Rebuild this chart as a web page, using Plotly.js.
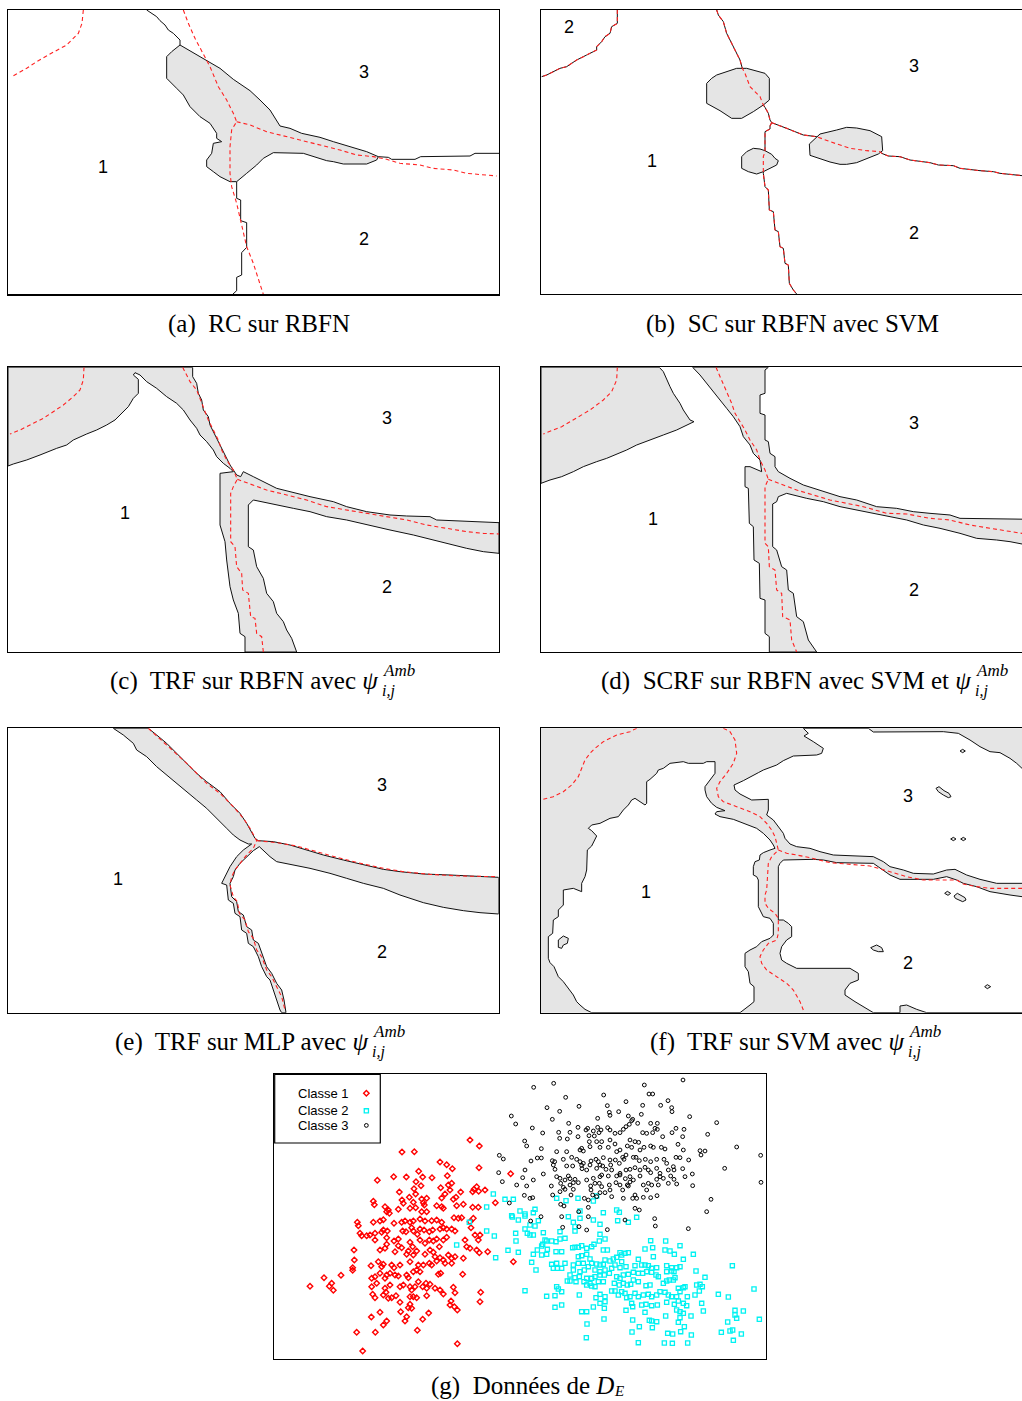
<!DOCTYPE html>
<html>
<head>
<meta charset="utf-8">
<script src="https://cdn.plot.ly/plotly-3.0.1.min.js"></script>
<style>
  html, body { margin: 0; padding: 0; overflow: hidden; background: #fff; }
  #fig { width: 1040px; height: 1401px; }
</style>
</head>
<body>
<div id="fig"></div>
<script>
// ---------------------------------------------------------------------------
// Decision regions of several classifiers with rejection (feature-space units)
// ---------------------------------------------------------------------------

// (a) RC sur RBFN
const aAmbig = [[540,135],[580,158],[620,180],[660,205],[700,238],[750,272],[780,300],[810,330],[840,378],[870,385],[905,400],[960,412],[1000,425],[1050,440],[1100,455],[1135,470],[1130,480],[1100,492],[1030,492],[1000,485],[980,482],[910,460],[820,458],[790,475],[770,495],[740,520],[710,545],[690,545],[660,530],[640,515],[620,500],[620,480],[635,460],[640,430],[665,425],[650,415],[650,400],[630,370],[600,350],[570,320],[550,285],[530,265],[515,250],[500,235],[500,170],[515,155],[540,135]];
const aEdgeTop = [[440,30],[470,50],[480,62],[495,75],[505,90],[520,100],[540,120],[540,135]];
const aEdgeBottom = [[710,545],[710,595],[722,600],[722,662],[740,668],[740,742],[725,758],[725,825],[710,832],[710,872],[698,883]];
const aEdgeRight = [[1135,470],[1165,472],[1175,478],[1245,478],[1262,470],[1410,468],[1425,460],[1497,460]];
const aBayesArc = [[250,30],[246,70],[235,100],[200,135],[150,162],[110,185],[80,205],[35,230]];
const aBayesMain = [[550,30],[565,70],[585,115],[610,160],[630,200],[655,260],[680,300],[700,340],[710,365],[695,390],[690,440],[690,520],[695,560],[710,610],[725,680],[740,740],[760,790],[775,840],[790,883]];
const aBayesRight = [[710,365],[750,375],[800,395],[840,405],[900,420],[960,435],[1020,450],[1070,465],[1120,470],[1160,478],[1200,490],[1260,495],[1300,505],[1360,510],[1400,520],[1490,528]];
const aClassLabels = [['1',308,500],['3',1093,215],['2',1093,717]];

// (b) SC sur RBFN avec SVM
const bEdgeArc = [[262,30],[262,70],[245,80],[240,100],[225,110],[215,125],[200,140],[200,150],[170,165],[140,180],[110,200],[90,205],[50,225],[35,230]];
const bEdgeMain = [[560,30],[565,45],[580,65],[590,100],[600,120],[610,140],[620,160],[630,180],[637,205],[645,220],[660,260],[690,290],[700,315],[705,322],[715,340],[720,360],[725,368]];
const bEdgeRight = [[725,368],[745,375],[770,385],[795,395],[820,405],[860,410],[900,425],[960,445],[1010,452],[1050,455],[1055,460],[1075,468],[1110,470],[1140,480],[1170,484],[1200,488],[1225,495],[1270,497],[1290,505],[1330,510],[1350,512],[1390,515],[1410,520],[1506,530]];
const bEdgeDown = [[725,368],[720,378],[720,387],[705,395],[705,455],[700,470],[700,520],[705,560],[715,570],[718,630],[730,635],[735,690],[745,695],[750,740],[760,745],[765,790],[775,795],[778,850],[790,870],[800,882]];
const bAmbig1 = [[530,250],[545,235],[560,225],[590,215],[620,205],[650,205],[680,213],[705,220],[718,235],[718,300],[700,315],[670,335],[635,355],[605,355],[570,332],[530,310],[530,250]];
const bAmbig2 = [[838,432],[870,402],[920,390],[950,382],[980,384],[1020,392],[1055,410],[1058,452],[1045,462],[1010,477],[980,488],[950,493],[930,493],[900,486],[870,477],[840,466],[838,432]];
const bAmbig3 = [[635,470],[650,455],[670,445],[690,447],[705,452],[725,463],[735,475],[745,482],[740,495],[720,506],[700,515],[680,522],[655,515],[635,505],[635,470]];
const bClassLabels = [['2',117,80],['3',1153,197],['1',367,483],['2',1153,698]];

// (c) TRF sur RBFN avec psi
const cAmbig = [[24,22],[578,22],[578,50],[590,70],[595,100],[605,120],[610,150],[625,170],[630,195],[640,215],[650,240],[660,260],[670,280],[680,300],[690,315],[700,330],[710,345],[722,350],[730,335],[760,350],[800,370],[830,385],[870,395],[930,410],[1000,425],[1040,440],[1100,455],[1170,465],[1220,468],[1290,470],[1310,480],[1410,485],[1497,488],[1497,580],[1450,575],[1400,565],[1340,550],[1300,540],[1240,525],[1170,510],[1100,495],[1040,480],[980,470],[930,455],[880,445],[820,432],[760,420],[745,435],[745,560],[760,570],[770,620],[790,655],[800,700],[820,725],[830,760],[850,785],[860,810],[875,835],[890,876],[735,876],[735,830],[720,820],[715,760],[700,720],[690,680],[680,600],[675,545],[660,495],[660,340],[700,335],[690,325],[670,310],[650,290],[640,270],[620,245],[600,225],[590,205],[570,180],[550,150],[530,130],[500,110],[470,85],[440,65],[420,45],[405,38],[400,45],[415,58],[415,100],[400,115],[385,140],[370,155],[345,180],[320,195],[290,210],[260,222],[220,240],[200,255],[170,265],[120,285],[80,300],[40,312],[24,318],[24,22]];
const cBayesArc = [[252,22],[250,60],[240,90],[220,110],[190,135],[160,155],[130,175],[100,190],[60,210],[30,222]];
const cBayesMain = [[548,22],[560,45],[570,65],[590,90],[600,115],[610,140],[625,180],[640,210],[655,240],[665,270],[680,300],[700,330],[712,358],[700,380],[692,400],[692,545],[705,560],[710,620],[725,640],[728,690],[745,700],[752,770],[765,775],[770,820],[785,830],[790,876]];
const cBayesRight = [[712,358],[760,375],[800,390],[860,405],[920,420],[980,440],[1040,450],[1100,462],[1160,470],[1220,480],[1280,495],[1340,505],[1400,515],[1450,520],[1497,522]];
const cClassLabels = [['3',1160,175],['1',375,460],['2',1160,680]];

// (d) SCRF sur RBFN avec SVM et psi
const dAmbig1 = [[33,22],[388,22],[400,35],[410,60],[420,80],[430,100],[440,115],[450,130],[460,150],[470,165],[480,180],[492,185],[470,195],[440,210],[400,225],[360,240],[320,255],[290,270],[255,285],[230,295],[200,305],[160,320],[130,335],[95,350],[60,360],[33,370],[33,22]];
const dAmbig2 = [[488,22],[715,22],[705,30],[705,100],[690,105],[690,160],[705,165],[705,240],[715,245],[720,280],[735,290],[735,320],[745,335],[780,355],[820,375],[850,385],[880,395],[930,410],[980,420],[1040,440],[1100,445],[1150,455],[1200,460],[1260,465],[1290,475],[1510,478],[1510,555],[1476,552],[1440,545],[1400,540],[1340,535],[1290,520],[1230,505],[1180,495],[1130,480],[1080,470],[1040,462],[990,450],[930,440],[880,425],[830,415],[770,400],[745,410],[740,425],[728,432],[728,560],[740,570],[755,620],[770,630],[775,690],[790,700],[800,770],[820,785],[835,840],[860,876],[718,876],[718,830],[705,820],[705,720],[690,715],[688,610],[672,600],[670,500],[658,490],[655,385],[645,380],[645,320],[660,320],[695,335],[690,300],[670,280],[660,255],[640,230],[630,200],[610,170],[590,145],[570,120],[550,95],[530,70],[510,45],[488,22]];
const dBayesArc = [[262,22],[260,60],[245,95],[220,120],[180,150],[130,180],[95,200],[40,222]];
const dBayesMain = [[558,22],[570,50],[580,75],[590,100],[605,130],[615,160],[630,185],[645,210],[660,240],[680,270],[690,300],[705,330],[715,358],[705,380],[705,550],[715,560],[718,620],[735,630],[740,690],[755,700],[758,770],[780,780],[785,840],[800,876]];
const dBayesRight = [[715,358],[760,375],[800,390],[850,405],[900,420],[950,430],[1000,440],[1070,460],[1130,462],[1200,475],[1260,480],[1320,495],[1380,505],[1440,515],[1506,525]];
const dClassLabels = [['3',1153,190],['1',368,478],['2',1153,690]];

// (e) TRF sur MLP avec psi
const eAmbig = [[340,25],[445,25],[470,45],[500,70],[530,100],[560,130],[590,160],[620,185],[660,215],[690,250],[720,280],[740,310],[755,335],[765,355],[775,362],[820,365],[870,375],[920,390],[970,405],[1030,420],[1090,435],[1150,448],[1200,455],[1270,462],[1350,465],[1430,470],[1496,472],[1496,582],[1440,578],[1390,572],[1330,562],[1270,548],[1200,525],[1150,505],[1090,490],[1040,475],[990,460],[930,445],[880,435],[830,425],[810,410],[790,390],[778,380],[760,392],[740,410],[720,430],[705,450],[700,470],[690,490],[695,530],[710,545],[715,575],[730,585],[740,620],[755,630],[760,660],[775,670],[785,700],[800,740],[815,760],[830,790],[845,810],[852,840],[858,878],[845,878],[840,870],[830,840],[820,810],[810,780],[800,770],[785,740],[775,710],[760,680],[745,670],[740,640],[725,630],[720,590],[705,580],[700,550],[685,540],[680,495],[665,490],[680,460],[690,440],[710,410],[730,390],[755,372],[745,372],[720,360],[700,345],[680,325],[650,295],[620,265],[590,240],[560,215],[530,190],[500,165],[470,140],[440,110],[410,90],[400,70],[370,45],[340,25]];
const eBayesMain = [[445,25],[500,75],[560,130],[620,190],[660,220],[700,260],[730,295],[750,325],[765,350],[770,362],[760,385],[740,405],[720,430],[705,450],[695,470],[690,495],[700,530],[712,545],[718,580],[735,600],[745,635],[760,655],[770,690],[785,710],[800,750],[815,770],[830,800],[845,830],[855,870]];
const eBayesRight = [[770,362],[830,368],[890,378],[950,395],[1010,412],[1090,432],[1150,445],[1210,455],[1290,463],[1380,468],[1490,470]];
const eClassLabels = [['3',1145,195],['1',355,478],['2',1145,695]];

// (f) TRF sur SVM avec psi : white = accepted regions, the rest is ambiguous
const fRegion1 = [[185,878],[165,868],[150,855],[140,845],[130,825],[110,800],[100,785],[85,770],[78,755],[72,740],[60,728],[55,715],[55,650],[68,640],[70,600],[85,590],[85,570],[100,555],[100,510],[130,505],[155,515],[155,490],[165,470],[170,450],[172,390],[185,378],[200,348],[185,332],[175,325],[185,315],[210,310],[240,295],[265,290],[280,270],[295,255],[305,240],[315,235],[330,245],[345,255],[350,250],[350,185],[360,178],[380,160],[385,150],[400,145],[420,130],[460,125],[475,130],[520,130],[530,125],[555,125],[555,160],[540,180],[525,200],[525,210],[530,230],[545,250],[560,262],[585,272],[560,275],[555,282],[570,290],[610,298],[640,310],[680,325],[700,340],[720,360],[730,375],[735,385],[720,390],[700,398],[690,405],[688,420],[675,425],[670,440],[670,465],[680,470],[685,480],[685,560],[700,590],[720,595],[730,610],[730,645],[720,655],[695,665],[680,680],[660,690],[645,700],[645,740],[655,755],[660,790],[672,800],[672,845],[660,855],[650,862],[630,878],[185,878]];
const fRegion3 = [[820,25],[1015,25],[1030,36],[1240,35],[1285,40],[1320,60],[1350,80],[1380,95],[1410,98],[1440,115],[1460,130],[1476,145],[1510,150],[1510,490],[1476,490],[1400,490],[1350,478],[1310,465],[1275,448],[1250,450],[1210,462],[1150,460],[1120,450],[1080,440],[1060,425],[1030,410],[910,405],[870,395],[840,385],[800,380],[780,372],[765,355],[760,340],[745,320],[730,300],[710,285],[715,270],[715,238],[665,240],[630,222],[615,210],[612,195],[640,182],[685,158],[700,150],[740,135],[760,122],[790,108],[860,105],[875,100],[880,85],[850,65],[822,48],[835,40],[820,25]];
const fRegion2 = [[760,420],[750,430],[745,440],[745,600],[760,600],[775,610],[785,620],[785,650],[770,660],[755,680],[750,700],[755,720],[770,730],[800,745],[960,745],[985,760],[985,780],[960,790],[945,810],[945,825],[975,845],[1010,865],[1030,878],[1110,878],[1110,858],[1130,855],[1160,868],[1190,878],[1510,878],[1510,530],[1476,530],[1440,525],[1380,515],[1340,500],[1300,490],[1280,480],[1250,470],[1210,478],[1110,478],[1080,465],[1050,445],[1030,430],[920,428],[880,420],[850,418],[800,418],[760,420]];
const fIslands = [
  [[85,660],[100,648],[115,655],[112,670],[100,675],[95,685],[85,682],[85,660]],
  [[1290,93],[1298,88],[1306,93],[1298,98],[1290,93]],
  [[1218,205],[1227,200],[1242,212],[1257,220],[1263,230],[1255,233],[1240,225],[1225,215],[1218,205]],
  [[1262,357],[1270,352],[1278,357],[1270,362],[1262,357]],
  [[1292,357],[1300,352],[1308,357],[1300,362],[1292,357]],
  [[1244,520],[1252,514],[1262,520],[1254,526],[1244,520]],
  [[1272,528],[1282,520],[1305,533],[1308,540],[1298,545],[1276,535],[1272,528]],
  [[1022,683],[1040,675],[1055,683],[1060,695],[1045,695],[1030,690],[1022,683]],
  [[1364,800],[1372,794],[1382,800],[1372,806],[1364,800]]
];
const fBayesArc = [[320,25],[300,35],[260,45],[220,65],[195,85],[180,100],[165,120],[155,145],[145,170],[125,195],[100,215],[70,230],[40,238]];
const fBayesMain = [[580,25],[600,35],[615,60],[620,100],[610,130],[590,160],[570,185],[560,205],[565,230],[580,245],[620,260],[660,275],[690,290],[710,310],[725,330],[735,350],[740,370],[745,390],[735,400],[725,410],[715,430],[712,470],[710,510],[705,525],[705,550],[715,565],[735,580],[745,595],[745,640],[740,660],[715,670],[700,690],[690,710],[695,730],[710,750],[740,770],[770,790],[790,810],[810,845],[820,870]];
const fBayesRight = [[745,390],[770,400],[800,405],[840,413],[900,428],[960,432],[1020,438],[1080,455],[1130,470],[1180,480],[1280,480],[1300,492],[1340,500],[1380,505],[1506,505]];
const fClassLabels = [['3',1135,228],['1',348,515],['2',1135,730]];

// (g) training data D_E
const classe1 = [[600,210],[628,228],[396,246],[433,245],[510,276],[530,284],[547,296],[627,293],[446,304],[322,331],[371,320],[409,321],[458,321],[486,323],[532,317],[438,335],[545,340],[535,345],[453,347],[620,350],[612,358],[388,366],[432,356],[512,353],[540,360],[572,366],[626,364],[608,365],[645,360],[437,372],[418,382],[470,385],[455,387],[525,372],[515,384],[558,382],[550,388],[396,390],[310,394],[313,404],[400,400],[430,397],[460,398],[463,405],[500,407],[515,410],[520,415],[560,407],[580,403],[608,412],[625,412],[676,398],[722,311],[345,410],[355,420],[385,418],[420,415],[437,413],[455,425],[470,425],[350,425],[358,430],
[262,457],[265,467],[310,457],[330,453],[340,449],[372,460],[395,457],[405,453],[420,457],[430,453],[450,447],[465,453],[485,452],[500,450],[515,457],[552,443],[565,445],[575,443],[610,445],[600,455],[603,473],[270,490],[275,497],[290,497],[300,495],[315,490],[340,480],[352,483],[335,487],[350,503],[372,513],[385,507],[398,483],[408,485],[425,473],[430,483],[442,493],[450,477],[462,480],[478,485],[488,480],[510,477],[520,473],[530,477],[545,477],[555,483],[530,502],[520,510],[315,510],[350,523],[385,527],[395,533],[420,517],[428,530],[450,510],[465,520],[478,510],[490,513],[500,507],[508,530],[615,495],[630,495],[625,510],[585,510],[590,530],[600,535],[620,540],[628,548],[653,545],[252,540],[330,540],[345,535],[375,545],[410,553],[415,543],[430,555],[440,543],[465,553],[480,540],[490,547],[495,560],[510,563],[520,570],[535,555],[545,565],[555,560],[580,565],[253,570],[303,587],[325,575],[340,583],[335,590],[365,585],[372,593],[390,585],[420,575],[445,585],[460,585],[478,580],[485,585],[500,573],[525,580],[545,580],[248,593],[248,601],[305,625],[315,620],[330,610],[345,625],[350,615],[360,610],[375,615],[385,618],[410,615],[415,623],[430,605],[440,600],[450,605],[505,613],[512,610],[578,613],[162,623],[213,616],[120,649],[178,649],[185,640],[190,661],[305,650],[320,640],[345,655],[348,667],[360,645],[390,650],[400,645],[420,650],[425,660],[435,650],[445,635],[458,650],[468,640],[470,655],[480,643],[495,655],[510,660],[520,672],[550,652],[555,668],[632,667],[308,673],[315,683],[340,675],[355,685],[365,683],[378,677],[420,680],[430,680],[440,683],[470,677],[390,697],[415,713],[420,703],[425,715],[543,693],[540,705],[553,710],[562,720],[630,695],[392,725],[476,729],[304,741],[330,727],[350,753],[340,765],[405,753],[410,740],[458,748],[260,787],[316,787],[442,781],[562,821],[278,843],[730,575]];

const classe2 = [[670,372],[705,388],[730,388],[650,411],[725,437],[598,457],[650,483],[673,498],[737,490],[738,513],[714,541],[745,547],[677,563],[560,525],[727,441],[745,450],
[860,385],[888,392],[924,385],[970,393],[980,378],[795,418],[790,428],[930,423],[1000,428],[1040,420],[1048,427],[750,423],[765,432],
[765,438],[765,477],[772,490],[780,495],[790,495],[780,465],[795,468],[805,452],[820,488],[825,510],[830,513],[818,523],[832,538],[845,513],[858,515],[870,507],[870,485],[885,505],[895,440],[910,457],[915,470],[930,445],[915,483],[908,533],[915,532],[925,532],[935,527],[950,535],[965,530],[972,523],[988,513],[990,493],[1005,507],[990,463],[970,450],[1043,452],[1075,457],[1100,442],
[802,540],[815,528],[858,545],[875,545],[790,553],[830,553],[815,555],[935,557],[925,560],[950,553],[1000,540],[1012,540],[1050,548],[1055,555],[1065,550],[1075,548],[1040,562],[1030,567],[1055,575],[1020,573],[1005,570],[960,567],[965,580],[980,582],[990,585],[1000,583],[940,580],[925,580],[910,585],[885,580],[860,580],[845,583],[850,595],[862,595],[875,595],
[785,577],[798,600],[1142,512],[1187,513],[1230,527],[1148,533],[1125,537],[1185,540],[1200,543],[1213,553],[1150,560],[1240,568],[1270,553],[1105,568],[1095,587],[1115,585],[1125,585],[1135,587],[1145,595],[1160,593],[1190,587],[1205,593],[1220,593],[1230,590],[1068,590],[1050,593],[1035,585],[1025,595],[1005,600],[990,605],[975,600],[955,590],[943,600],[930,605],[910,600],
[900,615],[915,623],[928,620],[950,625],[965,625],[975,620],[990,615],[1003,615],[1018,610],[1040,620],[1050,625],[1060,615],[1075,613],[1090,607],[1105,610],[1118,610],[1130,605],[1145,607],[1158,615],[1165,620],[1190,605],[1205,603],[1212,605],[1215,623],[1278,603],[1305,622],[1387,587],
[892,633],[900,633],[918,635],[942,635],[950,645],[960,640],[975,650],[965,648],[985,635],[1000,635],[1033,640],[1048,645],[1060,640],[1072,645],[1082,643],[1090,630],[1105,635],[1128,647],[1140,645],[1180,640],[1190,633],[1198,630],[1210,630],[1225,655],[1240,653],[1245,650],[1280,645],[1290,643],[1297,650],[860,650],[865,657],[765,662],[928,675],[830,679],[855,677],[875,665],[978,683],[990,673],[1005,680],[1025,663],[1035,663],[1045,675],[1055,665],[1065,670],[1070,683],[1080,680],[1095,670],[1105,680],[1120,675],[1135,673],[1145,680],[1160,675],[1170,665],[1185,667],[1195,675],[1205,680],[1220,680],[1230,665],[1252,680],[1275,675],[1288,663],[1345,673],[1375,681],[1452,657],
[855,712],[875,705],[970,711],[990,700],[1005,695],[1003,715],[1085,700],[1088,710],[1115,705],[1128,703],[1145,707],[1162,705],[1190,697],[1213,703],[1225,693],[1240,700],[1250,707],[1295,700],[935,725],[950,725],[1068,721],[1125,727],[1220,720],[1230,725],[1240,730],[1263,738],[1300,723],[1395,721],[1420,723],[1395,735],[1400,745],[951,762],[1002,747],[1088,750],[1108,770],[1138,751],[1145,753],[1160,755],[1187,738],[1225,757],[1230,743],[1243,770],[1373,756],[1468,748],[949,803],[1086,786],[1147,773],[1193,790],[1208,792],[1232,785],[1264,795],[1354,787],[1380,783],[1388,780],[1414,792],[1105,818],[1183,819],[1207,820],[1253,819],[1390,811]];

const classe3 = [[724,138],[737,162],[688,256],[700,267],[686,308],[697,335],[740,345],[718,399],
[782,453],[813,440],[875,440],[955,440],[878,472],[927,470],[950,480],[1012,479],[1065,450],[1154,446],[1156,468],[1255,476],
[791,52],[851,40],[1239,30],[1123,45],[1137,72],[1148,72],[887,82],[1001,75],[831,113],[927,109],[869,124],[1012,107],[1068,95],[1172,106],[1194,92],[1205,113],[1206,125],[1118,106],[1018,127],[1046,125],[1020,136],[1114,133],[1259,140],[847,148],[983,145],[1075,138],[1088,148],[1340,158],[896,160],[787,174],[818,189],[866,187],[900,187],[869,205],[892,207],[924,172],[924,200],[948,180],[953,175],[970,183],[957,197],[973,198],[983,172],[993,180],[987,188],[1013,173],[1020,180],[1035,190],[1050,188],[1060,178],[1068,170],[1078,163],[1085,152],[1103,160],[1118,188],[1130,190],[1142,160],[1162,160],[1155,175],[1162,178],[1148,188],[1178,200],[1206,188],[1218,175],[1242,178],[1238,200],[1313,193],
[764,213],[770,228],[814,236],[860,245],[890,245],[930,240],[935,235],[940,243],[958,215],[960,230],[980,215],[995,215],[990,232],[1015,232],[1020,210],[1035,222],[1040,245],[1050,240],[1072,228],[1080,210],[1095,215],[1085,232],[1106,217],[1110,240],[1122,232],[1142,228],[1150,232],[1174,232],[1185,237],[1224,223],[1240,240],[1290,242],[1305,243],[1293,255],[1400,231],[1472,256],
[802,264],[814,264],[783,273],[847,272],[854,275],[850,285],[880,268],[905,262],[920,268],[930,275],[940,280],[935,286],[963,273],[978,268],[985,275],[1000,263],[990,285],[1020,270],[1022,285],[1036,270],[1048,280],[1068,255],[1058,262],[1062,268],[1090,262],[1098,262],[1108,272],[1126,268],[1142,275],[1160,268],[1182,268],[1190,280],[1218,262],[1230,263],[1256,270],
[765,300],[855,298],[890,288],[908,288],[936,296],[950,300],[960,285],[980,295],[998,288],[1008,298],[1025,300],[1050,310],[1068,300],[1080,298],[1095,293],[1110,300],[1125,292],[1135,300],[1160,295],[1170,310],[1195,300],[1210,290],[1212,300],[1238,296],[1364,295],
[820,312],[860,320],[870,325],[885,330],[895,318],[900,326],[915,328],[950,330],[970,325],[990,320],[995,315],[1015,318],[1040,318],[1050,315],[1066,326],[1080,320],[1110,318],[1142,308],[1160,328],[1170,320],[1180,325],[1202,318],[1212,328],[1245,320],[1267,312],
[758,323],[790,330],[872,340],[900,345],[910,338],[925,338],[962,348],[975,340],[988,340],[995,350],[1018,345],[1038,338],[1050,345],[1072,345],[1080,336],[1090,330],[1120,345],[1135,340],[1145,345],[1165,345],[1195,340],[1220,342],[1268,347],[1473,337],
[770,348],[844,348],[880,352],[910,358],[963,360],[990,368],[1005,368],[1020,360],[1058,360],[1075,348],[1095,375],[1100,385],[1120,382],[1130,360],[1142,383],[1161,377],[763,376],[848,375],[870,365],[885,358],[903,375],[943,385],[955,390],[968,375],[980,380],[1025,380],[1088,385],[780,385],[788,383],[1323,388],[872,403],[882,408],[955,412],[1060,385],[1095,415],[1108,420],[1310,425],[926,425]];

// Legend entries and captions
const legendNames = ['Classe 1', 'Classe 2', 'Classe 3'];
const captions = [
  '(a)  RC sur RBFN',
  '(b)  SC sur RBFN avec SVM',
  '(c)  TRF sur RBFN avec <i>ψ</i>',
  '(d)  SCRF sur RBFN avec SVM et <i>ψ</i>',
  '(e)  TRF sur MLP avec <i>ψ</i>',
  '(f)  TRF sur SVM avec <i>ψ</i>',
  '(g)  Données de <i>D</i>'
];
const psiSup = 'Amb', psiSub = 'i,j', dataSub = 'E';

// ---------------------------------------------------------------------------
// Page geometry
// ---------------------------------------------------------------------------
const W = 1040, H = 1401;
const GRAY = '#e5e5e5', INK = '#111111', RED = '#ff2222', DASH = '4px,3px';

// subplot frames in page pixels [left, top, right, bottom] and data extents [x0, x1, yBottom, yTop]
const subplots = [
  { id: '',  frame: [8.33, 10, 499, 294.33],       ext: [25, 1497, 883, 30] },
  { id: '2', frame: [541, 10, 1032, 294],          ext: [33, 1506, 882, 30] },
  { id: '3', frame: [8, 367.33, 499, 652],         ext: [24, 1497, 876, 22] },
  { id: '4', frame: [541, 367.33, 1032, 652],      ext: [33, 1506, 876, 22] },
  { id: '5', frame: [8, 728.33, 498.67, 1012.67],  ext: [24, 1496, 878, 25] },
  { id: '6', frame: [541, 728.33, 1032, 1012.67],  ext: [33, 1506, 878, 25] },
  { id: '7', frame: [274, 1074.33, 766, 1358.67],  ext: [12, 1488, 866, 13] }
];

const px = x => x / W;
const py = y => 1 - y / H;

const layout = {
  width: W, height: H,
  margin: { l: 0, r: 0, t: 0, b: 0 },
  paper_bgcolor: '#fff', plot_bgcolor: '#fff',
  showlegend: false, hovermode: false,
  annotations: [], shapes: []
};

subplots.forEach(s => {
  const [l, t, r, b] = s.frame;
  const common = { showgrid: false, zeroline: false, showticklabels: false, ticks: '',
                   showline: true, mirror: true, linecolor: '#000', linewidth: 1.2, fixedrange: true };
  layout['xaxis' + s.id] = Object.assign({ domain: [px(l), px(r)], range: [s.ext[0], s.ext[1]],
                                           anchor: 'y' + s.id }, common);
  layout['yaxis' + s.id] = Object.assign({ domain: [py(b), py(t)], range: [s.ext[2], s.ext[3]],
                                           anchor: 'x' + s.id }, common);
});

// legend glyph axis for panel (g)
layout.xaxis8 = { domain: [px(274.7), px(380.3)], range: [0, 1], visible: false, fixedrange: true, anchor: 'y8' };
layout.yaxis8 = { domain: [py(1143), py(1074.3)], range: [0, 1], visible: false, fixedrange: true, anchor: 'x8' };

const traces = [];
const xs = pts => pts.map(p => p[0]);
const ys = pts => pts.map(p => p[1]);

function region(pts, id, fill) {
  traces.push({ type: 'scatter', mode: 'lines', x: xs(pts), y: ys(pts), xaxis: 'x' + id, yaxis: 'y' + id,
                fill: 'toself', fillcolor: fill, line: { color: INK, width: 1 }, hoverinfo: 'skip' });
}
function edge(pts, id) {
  traces.push({ type: 'scatter', mode: 'lines', x: xs(pts), y: ys(pts), xaxis: 'x' + id, yaxis: 'y' + id,
                line: { color: INK, width: 1 }, hoverinfo: 'skip' });
}
function bayes(pts, id) {
  traces.push({ type: 'scatter', mode: 'lines', x: xs(pts), y: ys(pts), xaxis: 'x' + id, yaxis: 'y' + id,
                line: { color: RED, width: 1.1, dash: DASH }, hoverinfo: 'skip' });
}
function classLabels(list, id) {
  list.forEach(([txt, x, y]) => layout.annotations.push({
    text: txt, x, y, xref: 'x' + id, yref: 'y' + id, showarrow: false,
    xanchor: 'center', yanchor: 'middle',
    font: { family: 'Liberation Sans, Arial, sans-serif', size: 18, color: '#000' }
  }));
}

// (a)
[aEdgeTop, aEdgeBottom, aEdgeRight].forEach(p => edge(p, ''));
region(aAmbig, '', GRAY);
[aBayesArc, aBayesMain, aBayesRight].forEach(p => bayes(p, ''));
classLabels(aClassLabels, '');

// (b)
[bEdgeArc, bEdgeMain, bEdgeRight, bEdgeDown].forEach(p => edge(p, '2'));
[bAmbig1, bAmbig2, bAmbig3].forEach(p => region(p, '2', GRAY));
[bEdgeArc, bEdgeMain, bEdgeRight, bEdgeDown].forEach(p => bayes(p, '2'));
classLabels(bClassLabels, '2');

// (c)
region(cAmbig, '3', GRAY);
[cBayesArc, cBayesMain, cBayesRight].forEach(p => bayes(p, '3'));
classLabels(cClassLabels, '3');

// (d)
region(dAmbig1, '4', GRAY);
region(dAmbig2, '4', GRAY);
[dBayesArc, dBayesMain, dBayesRight].forEach(p => bayes(p, '4'));
classLabels(dClassLabels, '4');

// (e)
region(eAmbig, '5', GRAY);
[eBayesMain, eBayesRight].forEach(p => bayes(p, '5'));
classLabels(eClassLabels, '5');

// (f) ambiguous background, accepted regions on top
layout.shapes.push({ type: 'rect', xref: 'x6 domain', yref: 'y6 domain', x0: 0, x1: 1, y0: 0, y1: 1,
                     fillcolor: GRAY, line: { width: 0 }, layer: 'below' });
[fRegion1, fRegion2, fRegion3].forEach(p => region(p, '6', '#ffffff'));
fIslands.forEach(p => region(p, '6', GRAY));
[fBayesArc, fBayesMain, fBayesRight].forEach(p => bayes(p, '6'));
classLabels(fClassLabels, '6');

// (g) scatter of the three classes
const markerStyles = [
  { symbol: 'diamond-open', size: 4.2, color: '#ff0000', line: { width: 1.4, color: '#ff0000' } },
  { symbol: 'square-open',  size: 4.2, color: '#00f2f2', line: { width: 1.3, color: '#00f2f2' } },
  { symbol: 'circle-open',  size: 3.8, color: '#000000', line: { width: 1.0, color: '#000000' } }
];
[classe1, classe2, classe3].forEach((pts, i) => traces.push({
  type: 'scatter', mode: 'markers', x: xs(pts), y: ys(pts), xaxis: 'x7', yaxis: 'y7',
  marker: markerStyles[i], name: legendNames[i], hoverinfo: 'skip', cliponaxis: true
}));

// legend box (text on the left, glyph on the right)
layout.shapes.push({ type: 'rect', xref: 'paper', yref: 'paper',
                     x0: px(274.7), x1: px(380.3), y0: py(1143), y1: py(1074.3),
                     line: { color: '#000', width: 1.2 }, fillcolor: 'rgba(0,0,0,0)', layer: 'above' });
const legendRows = [0.725, 0.468, 0.256];
legendNames.forEach((name, i) => {
  layout.annotations.push({ text: name, xref: 'paper', yref: 'paper',
    x: px(296), y: py(1143) + legendRows[i] * (py(1074.3) - py(1143)),
    xanchor: 'left', yanchor: 'middle', showarrow: false,
    font: { family: 'Liberation Sans, Arial, sans-serif', size: 13, color: '#000' } });
  traces.push({ type: 'scatter', mode: 'markers', x: [0.868], y: [legendRows[i]], xaxis: 'x8', yaxis: 'y8',
                marker: markerStyles[i], hoverinfo: 'skip' });
});

// captions
const serif = 'Liberation Serif, Times New Roman, serif';
const capFont = { family: serif, size: 25, color: '#000' };
function caption(text, x, y, anchor) {
  layout.annotations.push({ text, xref: 'paper', yref: 'paper', x: px(x), y: py(y),
    xanchor: anchor, yanchor: 'middle', showarrow: false, font: capFont });
}
function script(text, x, y, size) {
  layout.annotations.push({ text: '<i>' + text + '</i>\u00a0', xref: 'paper', yref: 'paper', x: px(x), y: py(y),
    xanchor: 'left', yanchor: 'middle', showarrow: false, borderpad: 0,
    font: { family: serif, size, color: '#000' } });
}
function psiScripts(x, y) {
  script(psiSup, x + 2, y - 10.5, 17);
  script(psiSub, x + 1, y + 9.5, 16);
}
caption(captions[0], 258.5, 324, 'center');
caption(captions[1], 792, 324, 'center');
caption(captions[2], 380, 681, 'right');  psiScripts(380, 681);
caption(captions[3], 973, 681, 'right');  psiScripts(973, 681);
caption(captions[4], 370, 1042, 'right'); psiScripts(370, 1042);
caption(captions[5], 906, 1042, 'right'); psiScripts(906, 1042);
caption(captions[6], 616, 1386, 'right'); script(dataSub, 613, 1390.5, 15);

Plotly.newPlot('fig', traces, layout, { staticPlot: true, displayModeBar: false });
</script>
</body>
</html>
